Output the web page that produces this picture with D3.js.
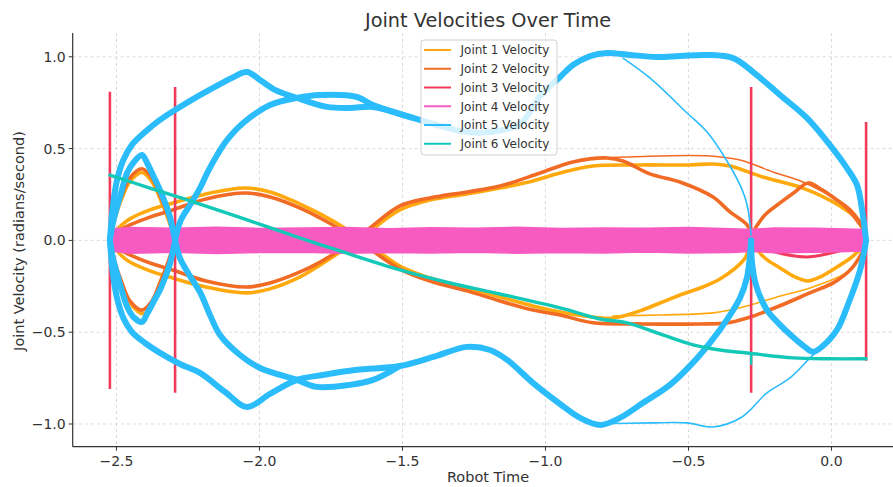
<!DOCTYPE html>
<html>
<head>
<meta charset="utf-8">
<script src="https://cdn.jsdelivr.net/npm/d3@7"></script>
<style>
  body { margin: 0; background: #fff; }
  svg { display: block; font-family: "DejaVu Sans", sans-serif; }
</style>
</head>
<body>
<svg id="chart" width="893" height="487"></svg>
<script>
// ---- data ([robot time, velocity]) ----
const seriesNames = ["Joint 1 Velocity", "Joint 2 Velocity", "Joint 3 Velocity",
                     "Joint 4 Velocity", "Joint 5 Velocity", "Joint 6 Velocity"];
const xTicks = [-2.5, -2.0, -1.5, -1.0, -0.5, 0.0];
const yTicks = [-1.0, -0.5, 0.0, 0.5, 1.0];

// Joint 1
const j1LensUp = [[-2.523,0],[-2.505,0.12],[-2.481,0.23],[-2.453,0.32],[-2.411,0.37],[-2.376,0.32],[-2.348,0.23],[-2.320,0.12],[-2.295,0]];
const j1LensDown = [[-2.523,0],[-2.505,-0.13],[-2.481,-0.245],[-2.453,-0.34],[-2.405,-0.40],[-2.376,-0.35],[-2.348,-0.25],[-2.320,-0.13],[-2.295,0]];
const j1SDown = [[-2.523,0],[-2.505,0.046],[-2.481,0.084],[-2.453,0.117],[-2.383,0.166],[-2.303,0.204],[-2.187,0.253],[-2.047,0.285],[-1.963,0.264],[-1.858,0.198],[-1.788,0.144],[-1.708,0.073],[-1.614,-0.025],[-1.509,-0.140],[-1.404,-0.205],[-1.274,-0.259],[-1.159,-0.308],[-1.044,-0.357],[-0.949,-0.390],[-0.862,-0.412],[-0.764,-0.423],[-0.670,-0.384],[-0.600,-0.341],[-0.520,-0.292],[-0.450,-0.254],[-0.390,-0.210],[-0.344,-0.161],[-0.302,-0.096],[-0.281,0]];
const j1SUp = [[-2.523,0],[-2.505,-0.041],[-2.481,-0.085],[-2.453,-0.118],[-2.383,-0.166],[-2.303,-0.205],[-2.187,-0.254],[-2.047,-0.286],[-1.963,-0.264],[-1.858,-0.199],[-1.788,-0.134],[-1.708,-0.052],[-1.614,0.051],[-1.509,0.166],[-1.404,0.220],[-1.274,0.253],[-1.159,0.285],[-1.044,0.324],[-0.949,0.367],[-0.834,0.405],[-0.670,0.411],[-0.495,0.411],[-0.414,0.416],[-0.355,0.405],[-0.240,0.345],[-0.100,0.285],[0.030,0.187],[0.100,0.100],[0.121,0]];
const j1RightLens = [[-0.281,-0.010],[-0.233,-0.096],[-0.180,-0.150],[-0.128,-0.199],[-0.082,-0.221],[-0.033,-0.194],[0.019,-0.145],[0.072,-0.090],[0.121,-0.010]];
const j1ThinLow = [[-0.764,-0.412],[-0.600,-0.406],[-0.414,-0.395],[-0.309,-0.363],[-0.190,-0.308],[-0.065,-0.254],[0.065,-0.161],[0.121,-0.025]];

// Joint 2
const j2LensUp = [[-2.523,0],[-2.505,0.135],[-2.481,0.245],[-2.453,0.34],[-2.411,0.39],[-2.376,0.34],[-2.348,0.245],[-2.320,0.135],[-2.295,0]];
const j2LensDown = [[-2.523,0],[-2.505,-0.12],[-2.481,-0.23],[-2.453,-0.33],[-2.411,-0.38],[-2.376,-0.33],[-2.348,-0.23],[-2.320,-0.12],[-2.295,0]];
const j2SDown = [[-2.523,0],[-2.505,0.029],[-2.481,0.062],[-2.453,0.084],[-2.383,0.127],[-2.303,0.166],[-2.187,0.226],[-2.047,0.258],[-1.963,0.236],[-1.858,0.176],[-1.788,0.122],[-1.708,0.051],[-1.614,-0.047],[-1.509,-0.156],[-1.404,-0.221],[-1.274,-0.275],[-1.159,-0.330],[-1.044,-0.379],[-0.949,-0.406],[-0.834,-0.449],[-0.660,-0.455],[-0.460,-0.455],[-0.366,-0.450],[-0.295,-0.423],[-0.191,-0.363],[-0.076,-0.286],[0.012,-0.226],[0.072,-0.150],[0.121,-0.025]];
const j2SUp = [[-2.523,0],[-2.505,-0.025],[-2.481,-0.057],[-2.453,-0.079],[-2.383,-0.123],[-2.303,-0.161],[-2.187,-0.221],[-2.047,-0.254],[-1.963,-0.232],[-1.858,-0.172],[-1.788,-0.118],[-1.708,-0.041],[-1.614,0.068],[-1.509,0.188],[-1.404,0.231],[-1.274,0.264],[-1.159,0.296],[-1.019,0.367],[-0.904,0.427],[-0.785,0.449],[-0.729,0.432],[-0.635,0.362],[-0.530,0.318],[-0.414,0.236],[-0.355,0.155],[-0.295,0.084],[-0.281,0.029]];
const j2RightLens = [[-0.281,0.029],[-0.233,0.138],[-0.180,0.204],[-0.128,0.264],[-0.082,0.313],[-0.033,0.275],[0.019,0.220],[0.072,0.155],[0.121,0.046]];
const j2ThinHigh = [[-0.809,0.449],[-0.600,0.460],[-0.425,0.460],[-0.320,0.438],[-0.205,0.373],[-0.100,0.318],[0.030,0.204],[0.121,0.029]];

// Joint 3
const j3Jumps = [
  [[-2.523,0.81],[-2.523,-0.81]],
  [[-2.295,0.835],[-2.295,-0.83]],
  [[-0.281,0.835],[-0.281,-0.83]],
  [[0.121,0.645],[0.121,-0.655]]
];
const j3Flat = [[-2.523,0.02],[-1.5,0.03],[-0.281,0.02]];
const j3Dip = [[-0.281,-0.02],[-0.180,-0.07],[-0.086,-0.09],[-0.005,-0.07],[0.121,-0.02]];

// Joint 4 (noisy band around zero: upper / lower envelope)
const j4Times = [-2.523,-2.45,-2.3,-2.15,-2.0,-1.85,-1.7,-1.55,-1.4,-1.25,-1.1,-0.95,-0.8,-0.65,-0.5,-0.35,-0.281,-0.2,-0.05,0.121];
const j4Upper = [0.062,0.070,0.066,0.072,0.065,0.068,0.070,0.064,0.069,0.066,0.071,0.065,0.068,0.066,0.070,0.064,0.060,0.068,0.066,0.060];
const j4Lower = [-0.058,-0.070,-0.065,-0.072,-0.066,-0.064,-0.070,-0.066,-0.068,-0.064,-0.070,-0.066,-0.068,-0.063,-0.069,-0.066,-0.060,-0.067,-0.065,-0.058];

// Joint 5
const j5UpperBig = [[-2.523,0],[-2.512,0.193],[-2.498,0.329],[-2.476,0.438],[-2.446,0.520],[-2.400,0.590],[-2.348,0.656],[-2.295,0.710],[-2.225,0.776],[-2.156,0.836],[-2.097,0.885],[-2.044,0.917],[-1.998,0.874],[-1.946,0.820],[-1.869,0.776],[-1.764,0.727],[-1.684,0.721],[-1.603,0.727],[-1.463,0.667],[-1.369,0.624],[-1.274,0.590],[-1.194,0.590],[-1.089,0.634],[-1.019,0.786],[-0.949,0.890],[-0.904,0.955],[-0.844,1.004],[-0.785,1.021],[-0.705,1.010],[-0.610,0.999],[-0.530,1.004],[-0.435,1.010],[-0.344,0.993],[-0.274,0.917],[-0.180,0.792],[-0.086,0.667],[-0.006,0.520],[0.054,0.394],[0.089,0.302],[0.107,0.166],[0.121,0]];
const j5UpperSecond = [[-2.295,0],[-2.278,0.100],[-2.243,0.193],[-2.208,0.285],[-2.183,0.367],[-2.148,0.465],[-2.113,0.547],[-2.057,0.639],[-1.963,0.737],[-1.869,0.776],[-1.789,0.792],[-1.659,0.781],[-1.603,0.737],[-1.463,0.667]];
const j5LowerBig = [[-2.523,0],[-2.512,-0.188],[-2.498,-0.314],[-2.476,-0.423],[-2.446,-0.499],[-2.400,-0.559],[-2.348,-0.613],[-2.278,-0.673],[-2.208,-0.722],[-2.120,-0.826],[-2.044,-0.907],[-1.963,-0.836],[-1.869,-0.760],[-1.778,-0.733],[-1.659,-0.705],[-1.509,-0.684],[-1.393,-0.635],[-1.274,-0.580],[-1.194,-0.597],[-1.134,-0.651],[-1.044,-0.776],[-0.949,-0.891],[-0.879,-0.967],[-0.809,-1.005],[-0.740,-0.967],[-0.660,-0.886],[-0.565,-0.787],[-0.485,-0.667],[-0.425,-0.558],[-0.366,-0.433],[-0.320,-0.314],[-0.295,-0.199],[-0.281,0]];
const j5LowerSecond = [[-2.295,0],[-2.278,-0.096],[-2.243,-0.194],[-2.208,-0.281],[-2.173,-0.406],[-2.138,-0.515],[-2.068,-0.624],[-1.998,-0.695],[-1.869,-0.760],[-1.799,-0.798],[-1.684,-0.787],[-1.603,-0.760],[-1.509,-0.684]];
const j5LensUp = [[-2.523,0],[-2.512,0.100],[-2.498,0.182],[-2.481,0.275],[-2.463,0.367],[-2.439,0.427],[-2.411,0.465],[-2.393,0.422],[-2.369,0.345],[-2.348,0.275],[-2.327,0.193],[-2.313,0.128],[-2.295,0]];
const j5LensDown = [[-2.523,0],[-2.512,-0.100],[-2.498,-0.182],[-2.481,-0.275],[-2.463,-0.36],[-2.439,-0.42],[-2.411,-0.444],[-2.393,-0.40],[-2.369,-0.33],[-2.348,-0.27],[-2.327,-0.19],[-2.313,-0.128],[-2.295,0]];
const j5RightLens = [[-0.281,0],[-0.278,-0.118],[-0.264,-0.243],[-0.226,-0.379],[-0.180,-0.460],[-0.135,-0.526],[-0.093,-0.580],[-0.065,-0.607],[-0.034,-0.580],[0.019,-0.488],[0.057,-0.352],[0.100,-0.161],[0.121,0]];
const j5ThinTop = [[-0.729,0.993],[-0.635,0.885],[-0.505,0.694],[-0.435,0.590],[-0.372,0.449],[-0.320,0.302],[-0.295,0.193],[-0.281,0.029]];
const j5ThinBottom = [[-0.809,-0.999],[-0.635,-0.994],[-0.505,-0.994],[-0.414,-1.016],[-0.313,-0.962],[-0.226,-0.831],[-0.145,-0.749],[-0.075,-0.640],[-0.058,-0.615]];

// Joint 6
const j6Main = [[-2.523,0.356],[-2.383,0.285],[-2.208,0.198],[-2.033,0.106],[-1.858,0.013],[-1.708,-0.063],[-1.509,-0.161],[-1.334,-0.232],[-1.159,-0.292],[-0.949,-0.368],[-0.809,-0.428],[-0.715,-0.449],[-0.600,-0.509],[-0.484,-0.569],[-0.390,-0.597],[-0.295,-0.613],[-0.135,-0.640],[-0.006,-0.645],[0.121,-0.645]];
const j6Jump = [[-0.281,-0.613],[-0.281,-0.678]];

// ---- styles ----
const colors = ["#FFA90E", "#F26B25", "#F23B5A", "#F75BC2", "#2BBCFB", "#14C8B8"];

// ---- layout ----
const svg = d3.select("#chart");
const W = 893, H = 487;
const plot = { left: 72.7, right: 903, top: 33, bottom: 446.7 };

const x = d3.scaleLinear().domain([-2.653, 0.250]).range([plot.left, plot.right]);
const y = d3.scaleLinear().domain([-1.1237, 1.1296]).range([plot.bottom, plot.top]);

svg.append("rect").attr("width", W).attr("height", H).attr("fill", "#fff");

// grid
const grid = svg.append("g").attr("stroke", "#d0d0d0").attr("stroke-width", 0.8).attr("stroke-dasharray", "3,3");
grid.selectAll(".gx").data(xTicks).join("line")
  .attr("x1", d => x(d)).attr("x2", d => x(d))
  .attr("y1", plot.top).attr("y2", plot.bottom);
grid.selectAll(".gy").data(yTicks).join("line")
  .attr("x1", plot.left).attr("x2", plot.right)
  .attr("y1", d => y(d)).attr("y2", d => y(d));

// clip
svg.append("defs").append("clipPath").attr("id", "clip")
  .append("rect").attr("x", plot.left).attr("y", plot.top)
  .attr("width", plot.right - plot.left).attr("height", plot.bottom - plot.top);

const marks = svg.append("g").attr("clip-path", "url(#clip)");

const line = d3.line()
  .x(d => x(d[0])).y(d => y(d[1]))
  .curve(d3.curveCatmullRom.alpha(0.5));
const straight = d3.line().x(d => x(d[0])).y(d => y(d[1]));

function drawPaths(list, color, width, gen, cap) {
  list.forEach(pts => {
    marks.append("path")
      .attr("d", (gen || line)(pts))
      .attr("fill", "none")
      .attr("stroke", color)
      .attr("stroke-width", width)
      .attr("stroke-linejoin", "round")
      .attr("stroke-linecap", cap || "round");
  });
}

// Joint 1
drawPaths([j1LensUp, j1LensDown, j1SDown, j1SUp, j1RightLens], colors[0], 3.6);
drawPaths([j1ThinLow], colors[0], 1.6);
// Joint 2
drawPaths([j2LensUp, j2LensDown, j2SDown, j2SUp, j2RightLens], colors[1], 3.6);
drawPaths([j2ThinHigh], colors[1], 1.6);
// Joint 3
drawPaths([j3Flat, j3Dip], colors[2], 3);
drawPaths(j3Jumps, colors[2], 2.6, straight, "butt");
// Joint 4 band
const band = d3.area()
  .x((d, i) => x(j4Times[i]))
  .y0((d, i) => y(j4Lower[i]))
  .y1((d, i) => y(j4Upper[i]));
marks.append("path")
  .attr("d", band(j4Times))
  .attr("fill", colors[3])
  .attr("stroke", colors[3])
  .attr("stroke-width", 1.5)
  .attr("stroke-linejoin", "round");
// Joint 5
drawPaths([j5UpperBig, j5UpperSecond, j5LowerBig, j5LowerSecond, j5LensUp, j5LensDown, j5RightLens], colors[4], 6);
drawPaths([j5ThinTop, j5ThinBottom], colors[4], 1.6);
// Joint 6
drawPaths([j6Main], colors[5], 3.4);
drawPaths([j6Jump], colors[5], 2.4, straight, "butt");

// axes (left + bottom spines)
const axisColor = "#333";
svg.append("line").attr("x1", plot.left).attr("x2", plot.left)
  .attr("y1", plot.top).attr("y2", plot.bottom)
  .attr("stroke", axisColor).attr("stroke-width", 1.2);
svg.append("line").attr("x1", plot.left).attr("x2", plot.right)
  .attr("y1", plot.bottom).attr("y2", plot.bottom)
  .attr("stroke", axisColor).attr("stroke-width", 1.2);

const fmt = d => d3.format(".1f")(d).replace("-", "\u2212");

svg.selectAll(".xtick").data(xTicks).join("line")
  .attr("x1", d => x(d)).attr("x2", d => x(d))
  .attr("y1", plot.bottom).attr("y2", plot.bottom + 4)
  .attr("stroke", axisColor).attr("stroke-width", 1);
svg.selectAll(".xlab").data(xTicks).join("text")
  .attr("x", d => x(d)).attr("y", 465.5)
  .attr("text-anchor", "middle")
  .attr("font-size", 14).attr("fill", "#333")
  .text(fmt);

svg.selectAll(".ytick").data(yTicks).join("line")
  .attr("x1", plot.left - 4).attr("x2", plot.left)
  .attr("y1", d => y(d)).attr("y2", d => y(d))
  .attr("stroke", axisColor).attr("stroke-width", 1);
svg.selectAll(".ylab").data(yTicks).join("text")
  .attr("x", plot.left - 7).attr("y", d => y(d))
  .attr("dy", "0.36em")
  .attr("text-anchor", "end")
  .attr("font-size", 14).attr("fill", "#333")
  .text(fmt);

// titles
svg.append("text").attr("x", 488).attr("y", 26.5)
  .attr("text-anchor", "middle").attr("font-size", 19.3).attr("fill", "#333")
  .text("Joint Velocities Over Time");
svg.append("text").attr("x", 488).attr("y", 482)
  .attr("text-anchor", "middle").attr("font-size", 14.5).attr("fill", "#333")
  .text("Robot Time");
svg.append("text")
  .attr("transform", "translate(19,241) rotate(-90)")
  .attr("text-anchor", "middle").attr("dominant-baseline", "central")
  .attr("font-size", 14.5).attr("fill", "#333")
  .text("Joint Velocity (radians/second)");

// legend
const legend = svg.append("g");
legend.append("rect")
  .attr("x", 421).attr("y", 40).attr("width", 136).attr("height", 115)
  .attr("rx", 3).attr("fill", "#fff").attr("fill-opacity", 0.8)
  .attr("stroke", "#d0d0d0").attr("stroke-width", 1);
const items = legend.selectAll(".item").data(seriesNames).join("g")
  .attr("transform", (d, i) => `translate(0,${50 + i * 18.75})`);
items.append("line")
  .attr("x1", 424).attr("x2", 451).attr("y1", 0).attr("y2", 0)
  .attr("stroke", (d, i) => colors[i]).attr("stroke-width", 2);
items.append("text")
  .attr("x", 460.5).attr("y", 0).attr("dy", "0.36em")
  .attr("font-size", 12).attr("fill", "#333")
  .text(d => d);
</script>
</body>
</html>
